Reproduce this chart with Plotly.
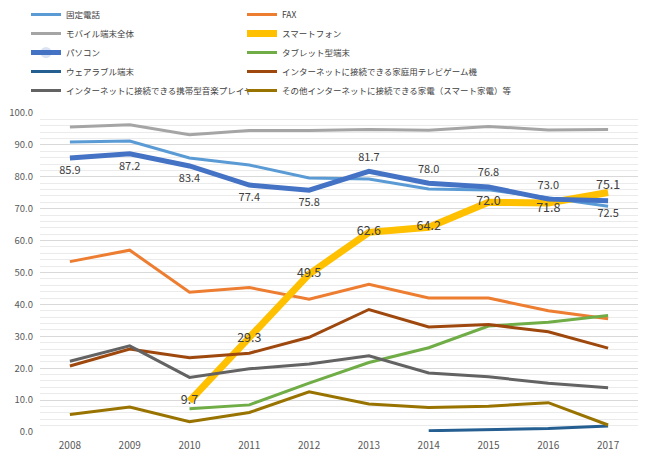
import plotly.graph_objects as go

years = ["2008", "2009", "2010", "2011", "2012", "2013", "2014", "2015", "2016", "2017"]

fixed_phone = [90.9, 91.2, 85.9, 83.7, 79.6, 79.3, 76.2, 75.9, 73.4, 70.8]
fax = [53.4, 57.0, 43.8, 45.3, 41.6, 46.3, 42.0, 42.0, 38.0, 35.5]
mobile_all = [95.6, 96.3, 93.2, 94.5, 94.5, 94.8, 94.6, 95.8, 94.7, 94.8]
smartphone = [None, None, 9.7, 29.3, 49.5, 62.6, 64.2, 72.0, 71.8, 75.1]
pc = [85.9, 87.2, 83.4, 77.4, 75.8, 81.7, 78.0, 76.8, 73.0, 72.5]
tablet = [None, None, 7.3, 8.5, 15.3, 21.8, 26.4, 33.2, 34.4, 36.5]
wearable = [None, None, None, None, None, None, 0.4, 0.8, 1.1, 1.9]
game = [20.7, 26.0, 23.3, 24.7, 29.7, 38.4, 32.9, 33.7, 31.4, 26.3]
music = [22.2, 27.0, 17.1, 19.8, 21.3, 23.9, 18.5, 17.3, 15.3, 13.9]
appliance = [5.5, 7.8, 3.2, 6.1, 12.6, 8.8, 7.7, 8.1, 9.2, 2.2]

names = [
    "固定電話", "FAX", "モバイル端末全体", "スマートフォン", "パソコン",
    "タブレット型端末", "ウェアラブル端末", "インターネットに接続できる家庭用テレビゲーム機",
    "インターネットに接続できる携帯型音楽プレイヤー", "その他インターネットに接続できる家電（スマート家電）等",
]
series = [fixed_phone, fax, mobile_all, smartphone, pc, tablet, wearable, game, music, appliance]
colors = ["#5B9BD5", "#ED7D31", "#A5A5A5", "#FFC000", "#4472C4",
          "#70AD47", "#255E91", "#9E480E", "#636363", "#997300"]
widths = [3, 3, 3, 7, 5, 3, 3, 3, 3, 3]

pc_pos = ["bottom center"] * 5 + ["top center"] * 4 + ["bottom center"]
sp_pos = ["middle center"] * 8 + ["bottom center", "top center"]

FONT = "Noto Sans CJK JP"
fig = go.Figure()
for i, (nm, vals, col, w) in enumerate(zip(names, series, colors, widths)):
    if nm == "パソコン":
        kw = dict(mode="lines+markers+text", text=[f"{v:.1f}" for v in vals],
                  textposition=pc_pos, marker=dict(size=11, opacity=0, color=col),
                  textfont=dict(family=FONT, size=11, color="#404040"))
    elif nm == "スマートフォン":
        kw = dict(mode="lines+text", text=["" if v is None else f"{v:.1f}" for v in vals],
                  textposition=sp_pos, textfont=dict(family=FONT, size=12.5, color="#404040"))
    else:
        kw = dict(mode="lines")
    fig.add_trace(go.Scatter(x=years, y=vals, name=nm, line=dict(color=col, width=w),
                             connectgaps=False, legend="legend" if i % 2 == 0 else "legend2",
                             **kw))

# page body has an 8px margin, so the figure is sized/offset to compensate
W, H = 642, 450
ml, mr, mt, mb = 32, 12, 105, 26
pw, ph = W - ml - mr, H - mt - mb

leg_common = dict(orientation="v", yanchor="top", xanchor="left", itemwidth=30,
                  font=dict(family=FONT, size=8.5, color="#404040"),
                  bgcolor="rgba(0,0,0,0)", traceorder="normal", tracegroupgap=0)
leg_top = 1 + (mt + 8) / ph

fig.update_layout(
    width=W, height=H,
    margin=dict(l=ml, r=mr, t=mt, b=mb, autoexpand=False),
    paper_bgcolor="white", plot_bgcolor="white",
    font=dict(family=FONT, color="#595959"),
    showlegend=True,
    legend=dict(x=(18 - ml) / pw, y=leg_top, **leg_common),
    legend2=dict(x=(234 - ml) / pw, y=leg_top, **leg_common),
    xaxis=dict(type="category", range=[-0.5, 9.5], showgrid=False, showline=False,
               ticks="", tickfont=dict(size=10, color="#595959"), zeroline=False,
               ticklabelstandoff=6),
    yaxis=dict(range=[0, 100], dtick=10, tickformat=".1f", showgrid=True, gridcolor="#D9D9D9",
               gridwidth=1, zeroline=False, showline=False, ticks="", ticklabelstandoff=6,
               tickfont=dict(size=9.5, color="#595959"),
               minor=dict(dtick=2, showgrid=True, gridcolor="#EBEBEB", gridwidth=1)),
)

fig.write_html("out.html")
